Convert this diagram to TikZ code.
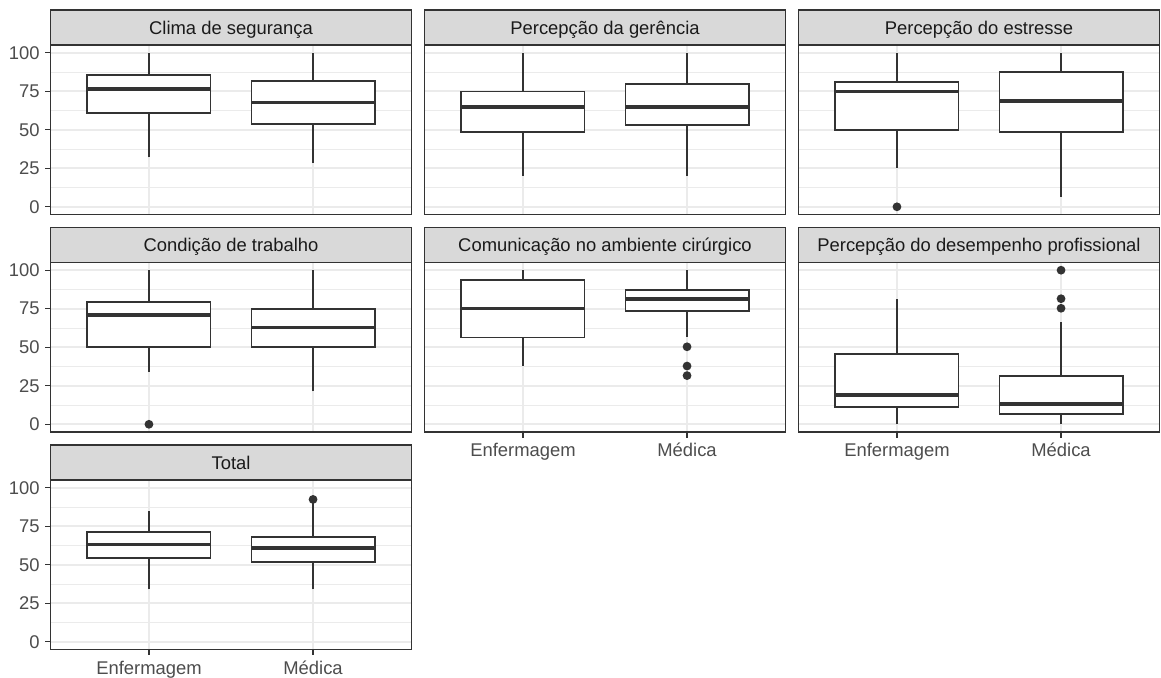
\documentclass[tikz,border=0pt]{standalone}
\usepackage{fontspec}
\setmainfont{Liberation Sans}
\tikzset{>=stealth}

\definecolor{grey10}{HTML}{1A1A1A}
\definecolor{grey20}{HTML}{333333}
\definecolor{grey30}{HTML}{4D4D4D}
\definecolor{grey85}{HTML}{D9D9D9}
\definecolor{grey92}{HTML}{EBEBEB}

\newcommand\plotfont{\fontsize{13.8}{16}\selectfont}

\tikzset{
  stripbox/.style={fill=grey85, draw=grey20, line width=0.8pt,
    minimum width=270.75pt, minimum height=26.25pt, inner sep=0pt,
    outer sep=0pt, text=grey10, font=\plotfont, text height=12pt, text depth=1.8pt},
  panelframe/.style={draw=grey20, line width=0.8pt},
  gridmajor/.style={draw=grey92, line width=1.2pt},
  gridminor/.style={draw=grey92, line width=0.6pt},
  boxline/.style={draw=grey20, line width=1.4pt},
  medianline/.style={draw=grey20, line width=2.6pt},
  tickmark/.style={draw=grey20, line width=1pt},
  ticklabel/.style={text=grey30, font=\plotfont, inner sep=0pt},
  outlier/.style={fill=grey20}
}

% one facet: column, row, name, title
\newenvironment{facet}[4]{%
  \node[stripbox, anchor=north west] (#3) at ({50.5+374*#1},{10+217.5*#2}) {#4};
  \begin{scope}[shift={(#3.south west)}, yshift=-127.125pt,
      x=123.07pt, y=1.1557pt, xshift=-49.23pt, yshift=5.78pt]
    \foreach \v in {12.5,37.5,62.5,87.5} \draw[gridminor] (0.4,\v) -- (2.6,\v);
    \foreach \v in {0,25,...,100} \draw[gridmajor] (0.4,\v) -- (2.6,\v);
    \foreach \x in {1,2} \draw[gridmajor] (\x,-5) -- (\x,105);
}{%
    \draw[panelframe] (0.4,-5) rectangle (2.6,105);
  \end{scope}}

% x, lower whisker, q1, median, q3, upper whisker
\newcommand\boxat[6]{%
  \draw[boxline] (#1,#2) -- (#1,#3) (#1,#5) -- (#1,#6);
  \draw[boxline, fill=white] ({#1-0.375},#3) rectangle ({#1+0.375},#5);
  \draw[medianline] ({#1-0.375},#4) -- ({#1+0.375},#4);}
\newcommand\outpts[2]{\foreach \v in {#2} \fill[outlier] (#1,\v) circle[radius=3.3pt];}

\newcommand\yaxis[1]{%
  \foreach \v in {0,25,50,75,100}{
    \draw[tickmark] (0.4,\v) -- ++(-4.35pt,0);
    \node[ticklabel, anchor=east, xshift=-7.9pt] (#1-y\v) at (0.4,\v) {\v};}}
\newcommand\xaxis[1]{%
  \foreach \x/\lab/\tag in {1/Enfermagem/enf, 2/Médica/med}{
    \draw[tickmark] (\x,-5) -- ++(0,-4.35pt);
    \node[ticklabel, anchor=base, yshift=-18.4pt] (#1-\tag) at (\x,-5) {\lab};}}

\begin{document}
\begin{tikzpicture}[x=0.75pt, y=-0.75pt]
\useasboundingbox[fill=white] (0,0) rectangle (1161,678);

\begin{facet}{0}{0}{clima}{Clima de segurança}
  \boxat{1}{32.1}{60.6}{76.5}{85.3}{100}
  \boxat{2}{28.4}{53.7}{67.7}{81.9}{100}
  \yaxis{clima}
\end{facet}

\begin{facet}{1}{0}{gerencia}{Percepção da gerência}
  \boxat{1}{20.3}{48.5}{64.9}{74.8}{100}
  \boxat{2}{20.3}{53.2}{64.9}{79.7}{100}
\end{facet}

\begin{facet}{2}{0}{estresse}{Percepção do estresse}
  \boxat{1}{25.2}{50}{74.8}{81}{100}
  \outpts{1}{0}
  \boxat{2}{6.5}{48.3}{68.8}{87.5}{100}
\end{facet}

\begin{facet}{0}{1}{condicao}{Condição de trabalho}
  \boxat{1}{33.8}{50}{71}{79.1}{100}
  \outpts{1}{0}
  \boxat{2}{21.3}{50}{62.8}{75.1}{100}
  \yaxis{condicao}
\end{facet}

\begin{facet}{1}{1}{comunicacao}{Comunicação no ambiente cirúrgico}
  \boxat{1}{38.1}{56.3}{75.1}{93.5}{100}
  \boxat{2}{56.8}{73.8}{81.3}{87.3}{100}
  \outpts{2}{50.3,37.8,31.6}
  \xaxis{comunicacao}
\end{facet}

\begin{facet}{2}{1}{desempenho}{Percepção do desempenho profissional}
  \boxat{1}{0}{11}{19.1}{45.4}{81.1}
  \boxat{2}{0}{6.5}{13.3}{31.6}{66.5}
  \outpts{2}{100,81.5,75.3}
  \xaxis{desempenho}
\end{facet}

\begin{facet}{0}{2}{total}{Total}
  \boxat{1}{34}{54.5}{63}{71.4}{84.8}
  \boxat{2}{34}{51.7}{60.8}{68.2}{91}
  \outpts{2}{92.4}
  \yaxis{total}
  \xaxis{total}
\end{facet}
\end{tikzpicture}
\end{document}
